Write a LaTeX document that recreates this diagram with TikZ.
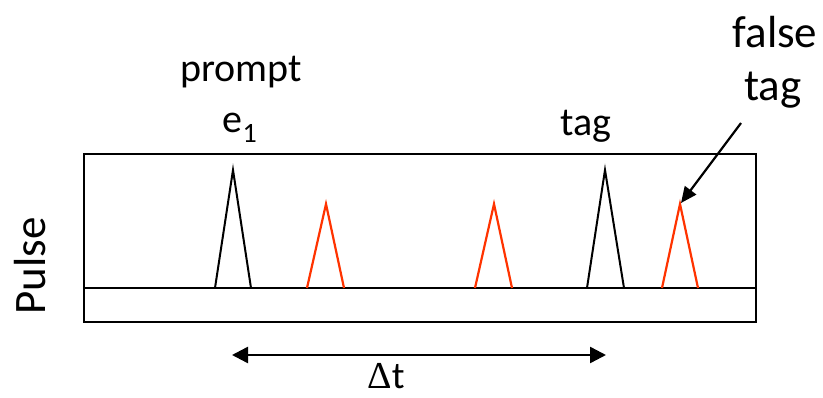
\documentclass[tikz,border=0pt]{standalone}
\usepackage{fontspec}
\setmainfont{Carlito}
\newfontfamily\symfont{Liberation Serif}
\usetikzlibrary{arrows.meta}
\definecolor{pulsered}{RGB}{255,51,0}
\begin{document}
\begin{tikzpicture}[x=1pt,y=-1pt,
  lbl/.style={inner sep=0pt,font=\fontsize{40}{44}\selectfont},
  biglbl/.style={inner sep=0pt,font=\fontsize{45}{50}\selectfont},
  frame/.style={draw=black,line width=2pt},
  blackpulse/.style={draw=black,line width=2pt,line join=miter},
  redpulse/.style={draw=pulsered,line width=2.2pt,line join=miter},
  arr/.style={draw=black,line width=2.2pt,-{Triangle[length=16pt,width=14pt]}},
  dbl/.style={draw=black,line width=2.5pt,{Triangle[length=16pt,width=16pt]}-{Triangle[length=16pt,width=16pt]}}]
\useasboundingbox (0,0) rectangle (823,398);
% frame
\node[frame,minimum width=672pt,minimum height=168pt,inner sep=0pt,anchor=north west] (box) at (83,153) {};
\coordinate (bl) at (83,288);
\coordinate (br) at (755,288);
\draw[frame] (bl) -- (br);
% black pulses
\draw[blackpulse] (215,288) -- (233,170) -- (251,288);
\draw[blackpulse] (587,288) -- (605,170) -- (624,288);
% red pulses
\draw[redpulse] (307,288) -- (326,204) -- (344,288);
\draw[redpulse] (475,288) -- (494,204) -- (512,288);
\draw[redpulse] (662,288) -- (680,204) -- (698,288);
\coordinate (ftpeak) at (681,203);
% labels
\node[lbl] (prompt) at (241,72) {prompt};
\node[lbl] (e1) at (240,128) {e\textsubscript{1}};
\node[lbl] (tag) at (586,126) {tag};
\node[biglbl] (false) at (775,32) {false};
\node[biglbl] (ftag) at (773,90) {tag};
\node[biglbl,rotate=90] (pulse) at (30,266) {Pulse};
\coordinate (fs) at (741,123);
\draw[arr] (fs) -- (ftpeak);
% delta t
\coordinate (dl) at (232,355);
\coordinate (dr) at (606,355);
\draw[dbl] (dl) -- (dr);
\node[inner sep=0pt,text depth=0pt,font=\fontsize{38}{42}\selectfont,anchor=south] (dt) at (386,389) {{\symfont Δ}t};
\end{tikzpicture}
\end{document}
